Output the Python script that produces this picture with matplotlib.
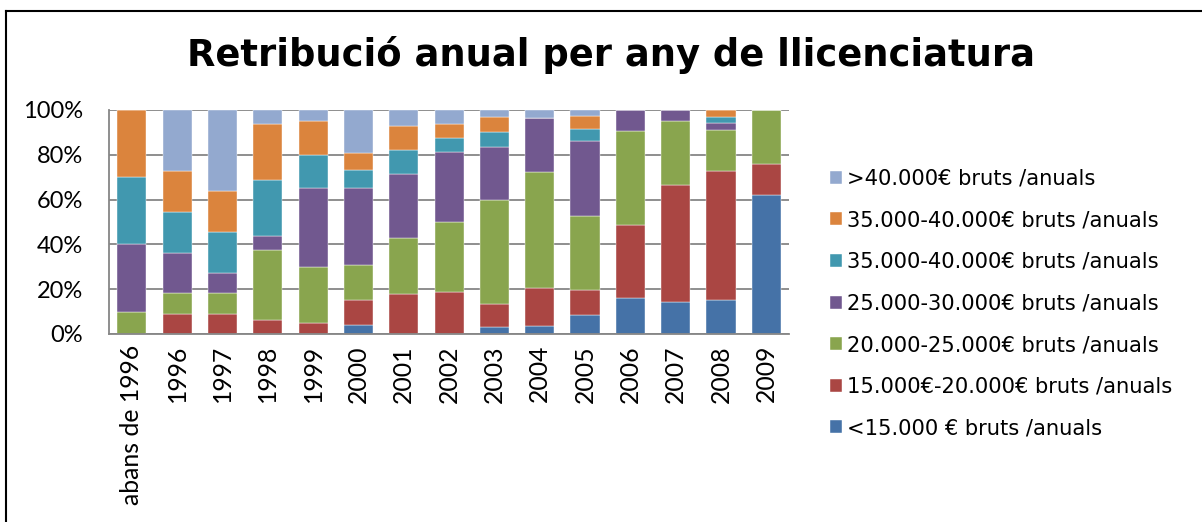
import numpy as np
import matplotlib.pyplot as plt
from matplotlib.lines import Line2D

years = ['abans de 1996', '1996', '1997', '1998', '1999', '2000', '2001', '2002',
         '2003', '2004', '2005', '2006', '2007', '2008', '2009']

# percentage of each salary band per year (bottom to top)
lt15 = [0, 0, 0, 0, 0, 3.85, 0, 0, 3.33, 3.45, 8.33, 16.0, 14.3, 15.2, 62.1]
b15_20 = [0, 9.09, 9.09, 6.25, 5, 11.5, 17.86, 18.75, 10.0, 17.2, 11.1, 32.5, 52.4, 57.6, 13.8]
b20_25 = [10, 9.09, 9.09, 31.25, 25, 15.4, 25.0, 31.25, 46.67, 51.7, 33.3, 42.0, 28.6, 18.2, 24.1]
b25_30 = [30, 18.18, 9.09, 6.25, 35, 34.6, 28.57, 31.25, 23.33, 24.1, 33.3, 9.5, 4.7, 3.0, 0]
b35_40a = [30, 18.18, 18.18, 25, 15, 7.7, 10.71, 6.25, 6.67, 0, 5.56, 0, 0, 3.0, 0]
b35_40b = [30, 18.18, 18.18, 25, 15, 7.7, 10.71, 6.25, 6.67, 0, 5.56, 0, 0, 3.0, 0]
gt40 = [0, 27.27, 36.36, 6.25, 5, 19.25, 7.14, 6.25, 3.33, 3.45, 2.78, 0, 0, 0, 0]

series = [lt15, b15_20, b20_25, b25_30, b35_40a, b35_40b, gt40]
labels = ['<15.000 € bruts /anuals', '15.000€-20.000€ bruts /anuals',
          '20.000-25.000€ bruts /anuals', '25.000-30.000€ bruts /anuals',
          '35.000-40.000€ bruts /anuals', '35.000-40.000€ bruts /anuals',
          '>40.000€ bruts /anuals']
colors = ['#4572A7', '#AA4643', '#89A54E', '#71588F', '#4198AF', '#DB843D', '#93A9CF']

fig = plt.figure(figsize=(12.02, 5.22), dpi=100)
ax = fig.add_axes([0.0907, 0.3602, 0.5657, 0.4291])

x = np.arange(len(years))
bottom = np.zeros(len(years))
handles = []
for vals, lab, col in zip(series, labels, colors):
    vals = np.array(vals, dtype=float)
    b = ax.bar(x, vals, 0.64, bottom=bottom, color=col, label=lab,
               edgecolor='white', linewidth=0.3)
    handles.append(b)
    bottom += vals

ax.set_xlim(-0.5, len(years) - 0.5)
ax.set_ylim(0, 100)
ax.set_yticks([0, 20, 40, 60, 80, 100])
ax.set_yticklabels(['0%', '20%', '40%', '60%', '80%', '100%'])
ax.set_xticks(x)
ax.set_xticklabels(years, rotation=90, va='top')
ax.tick_params(axis='both', length=0, labelsize=17)
ax.tick_params(axis='x', labelsize=17.8, pad=8)
ax.tick_params(axis='y', pad=18.5)
for t in ax.get_xticklabels() + ax.get_yticklabels():
    t.set_family('Lato')

ax.yaxis.grid(True, color='#868686', linewidth=1.3)
ax.set_axisbelow(True)
for s in ['top', 'right']:
    ax.spines[s].set_visible(False)
for s in ['left', 'bottom']:
    ax.spines[s].set_color('#868686')
    ax.spines[s].set_linewidth(1.3)

leg = fig.legend(handles[::-1], labels[::-1], loc='center left',
                 bbox_to_anchor=(0.6905, 0.4186), frameon=False,
                 fontsize=15.1, handlelength=0.57, handleheight=0.57,
                 handletextpad=0.26, labelspacing=1.03, borderpad=0,
                 borderaxespad=0)

fig.text(0.508, 0.895, 'Retribució anual per any de llicenciatura',
         ha='center', va='center', fontsize=26.6, fontweight='bold')

fig.add_artist(Line2D([0.0054, 1.0], [0.978, 0.978], color='black', linewidth=1.5))
fig.add_artist(Line2D([0.0054, 0.0054], [0.0, 0.978], color='black', linewidth=1.5))

fig.savefig('out.png', dpi=100)
